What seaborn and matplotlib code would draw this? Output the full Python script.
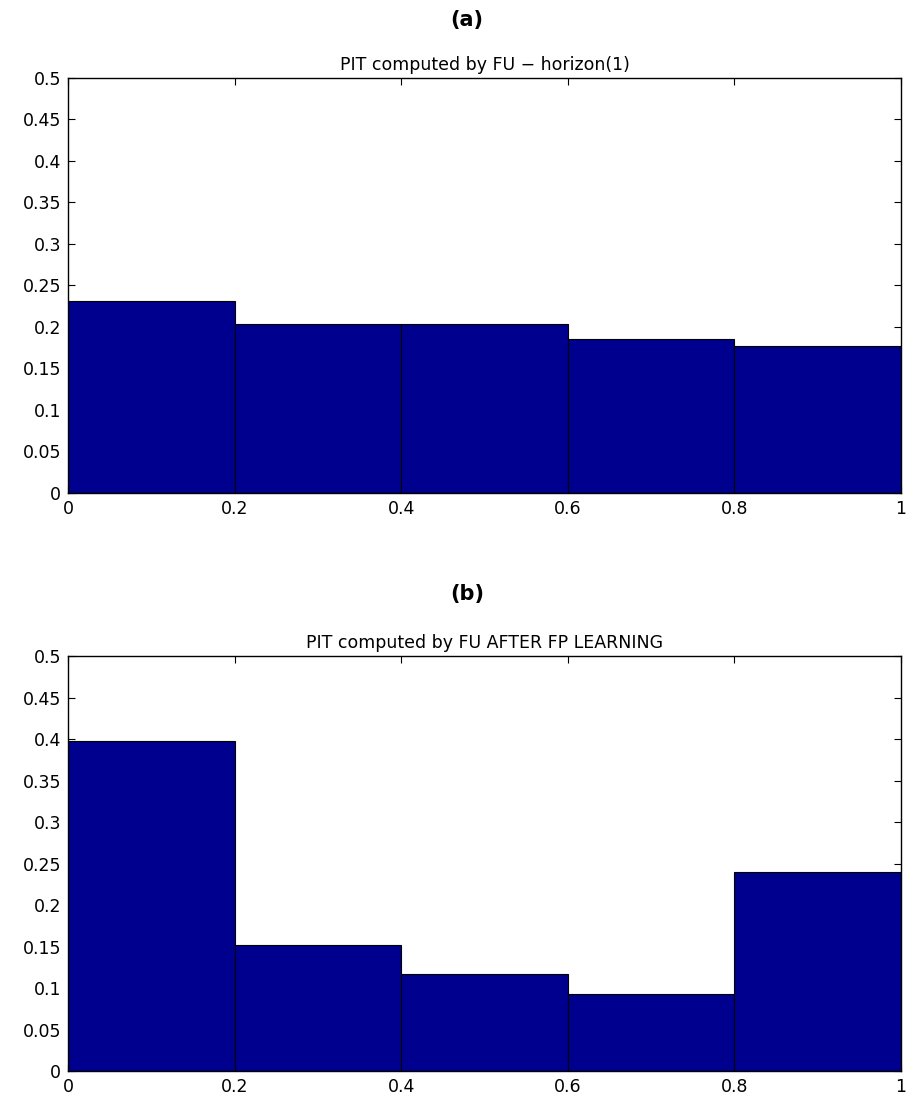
import numpy as np
import pandas as pd
import matplotlib
matplotlib.use("Agg")
import matplotlib.pyplot as plt
import matplotlib.ticker as mticker
import seaborn as sns

# PIT histogram bins and relative frequencies
bin_edges = [0.0, 0.2, 0.4, 0.6, 0.8, 1.0]
bin_centers = [0.1, 0.3, 0.5, 0.7, 0.9]
pit_horizon1 = [0.231, 0.204, 0.204, 0.185, 0.177]
pit_after_fp = [0.398, 0.152, 0.1165, 0.093, 0.240]

titles = ["PIT computed by FU \u2212 horizon(1)", "PIT computed by FU AFTER FP LEARNING"]
panel_labels = ["(a)", "(b)"]
x_ticks = [0, 0.2, 0.4, 0.6, 0.8, 1]
y_ticks = [0, 0.05, 0.1, 0.15, 0.2, 0.25, 0.3, 0.35, 0.4, 0.45, 0.5]

sns.set_theme(style="white")
plt.rcParams["font.family"] = ["DejaVu Sans"]
plt.rcParams["text.color"] = "black"

fig = plt.figure(figsize=(9.09, 10.95), dpi=100)
bottoms = [0.5498, 0.0219]
label_y = [0.9815, 0.4575]

for i, vals in enumerate([pit_horizon1, pit_after_fp]):
    ax = fig.add_axes([0.0748, bottoms[i], 0.9165, 0.379])
    df = pd.DataFrame({"pit": bin_centers, "freq": vals})
    sns.histplot(data=df, x="pit", weights="freq", bins=bin_edges, ax=ax,
                 color="#00008F", alpha=1, edgecolor="black", linewidth=0.8)
    ax.set_xlim(0, 1)
    ax.set_ylim(0, 0.5)
    ax.set_xticks(x_ticks)
    ax.set_yticks(y_ticks)
    ax.xaxis.set_major_formatter(mticker.FormatStrFormatter("%g"))
    ax.yaxis.set_major_formatter(mticker.FormatStrFormatter("%g"))
    ax.set_xlabel("")
    ax.set_ylabel("")
    ax.tick_params(direction="in", length=5, width=0.8, top=True, right=True,
                   bottom=True, left=True, labelsize=12.5, colors="black", pad=5)
    for sp in ax.spines.values():
        sp.set_visible(True)
        sp.set_color("black")
        sp.set_linewidth(1.0)
    ax.set_title(titles[i], fontsize=12.5, pad=6, color="black")
    fig.text(0.514, label_y[i], panel_labels[i], ha="center", va="center",
             fontsize=15, fontweight="bold", color="black")

fig.savefig("out.png", dpi=100)
